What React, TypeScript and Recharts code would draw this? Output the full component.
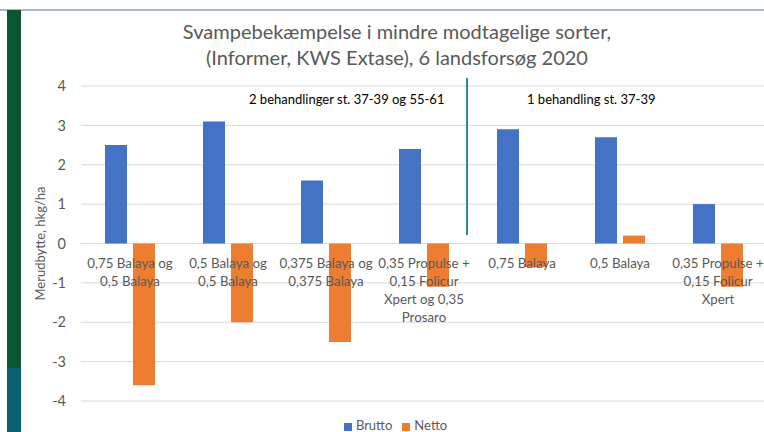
import { BarChart, Bar, XAxis, YAxis, CartesianGrid, Legend } from 'recharts';

const categories = [
  '0,75 Balaya og\n0,5 Balaya',
  '0,5 Balaya og\n0,5 Balaya',
  '0,375 Balaya og\n0,375 Balaya',
  '0,35 Propulse +\n0,15 Folicur\nXpert og 0,35\nProsaro',
  '0,75 Balaya',
  '0,5 Balaya',
  '0,35 Propulse +\n0,15 Folicur\nXpert',
];
const brutto = [2.5, 3.1, 1.6, 2.4, 2.9, 2.7, 1.0];
const netto = [-3.6, -2.0, -2.5, -1.1, -0.6, 0.2, -1.1];
const yTicks = [-4, -3, -2, -1, 0, 1, 2, 3, 4];

const data = categories.map((name, i) => ({ name, Brutto: brutto[i], Netto: netto[i] }));

const FONT = 'Lato, "Noto Sans", sans-serif';
const GRAY = '#595959';

// plot goes from y=86 (value 4) to y=401 (value -4)
const PLOT_TOP = 86;
const PLOT_BOTTOM = 401;
const zeroY = (PLOT_TOP + PLOT_BOTTOM) / 2;

function CategoryTick(props: any) {
  const { x, payload } = props;
  const lines = String(payload.value).split('\n');
  return (
    <text x={x} y={zeroY + 24} textAnchor="middle" fill={GRAY} fontSize={13.3} fontFamily={FONT}>
      {lines.map((l, i) => (
        <tspan key={i} x={x} dy={i === 0 ? 0 : 18}>
          {l}
        </tspan>
      ))}
    </text>
  );
}

export default function App() {
  return (
    <div style={{ position: 'fixed', left: 0, top: 0, width: 764, height: 432, overflow: 'hidden', background: '#fff', fontFamily: FONT }}>
      <div style={{ position: 'absolute', left: 0, top: 9, width: 764, height: 2, background: '#a9b9c4' }} />
      <div style={{ position: 'absolute', left: 7, top: 10, width: 14, height: 358, background: '#0b5531' }} />
      <div style={{ position: 'absolute', left: 7, top: 368, width: 14, height: 64, background: '#08616f' }} />

      <div style={{ position: 'absolute', left: 0, top: 18, width: 794, textAlign: 'center', color: GRAY, fontSize: 20, lineHeight: '26px' }}>
        Svampebekæmpelse i mindre modtagelige sorter,
        <br />
        (Informer, KWS Extase), 6 landsforsøg 2020
      </div>

      <div style={{ position: 'absolute', left: 0, top: 0 }}>
        <BarChart
          width={780}
          height={432}
          data={data}
          margin={{ top: PLOT_TOP, right: 13, bottom: 0, left: 0 }}
          barGap={6}
          barSize={22}
        >
          <CartesianGrid vertical={false} stroke="#d9d9d9" />
          <XAxis dataKey="name" axisLine={false} tickLine={false} tick={<CategoryTick />} interval={0} height={14} />
          <YAxis
            domain={[-4, 4]}
            ticks={yTicks}
            width={81}
            axisLine={false}
            tickLine={false}
            tickSize={0}
            tickMargin={15}
            tick={{ fill: GRAY, fontSize: 14.5, fontFamily: FONT }}
            label={{ value: 'Merudbytte, hkg/ha', angle: -90, position: 'insideLeft', offset: 40, fill: GRAY, fontSize: 13, fontFamily: FONT, style: { textAnchor: 'middle' } }}
          />
          <Legend
            iconType="square"
            iconSize={8}
            height={17}
            wrapperStyle={{ top: 417, left: 17, fontSize: 13, fontFamily: FONT }}
            formatter={(v) => <span style={{ color: GRAY }}>{v}</span>}
          />
          <Bar dataKey="Brutto" fill="#4472c4" isAnimationActive={false} />
          <Bar dataKey="Netto" fill="#ed7d31" isAnimationActive={false} />
        </BarChart>
      </div>

      <div style={{ position: 'absolute', left: 466, top: 78, width: 2, height: 157, background: '#31859c' }} />
      <div style={{ position: 'absolute', left: 249, top: 91, color: '#000', fontSize: 13 }}>2 behandlinger st. 37-39 og 55-61</div>
      <div style={{ position: 'absolute', left: 527, top: 91, color: '#000', fontSize: 13 }}>1 behandling st. 37-39</div>
    </div>
  );
}
